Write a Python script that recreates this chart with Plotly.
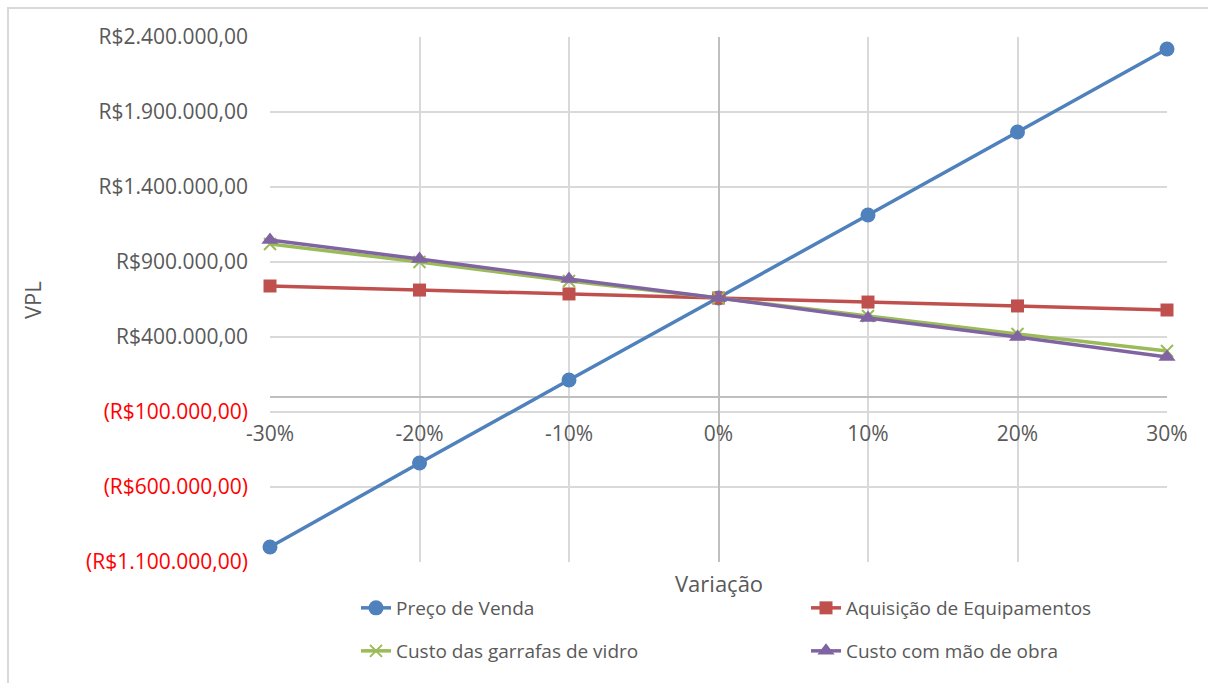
import plotly.graph_objects as go

# Variação (%) applied to each input
variacao = [-30, -20, -10, 0, 10, 20, 30]
x_labels = ["-30%", "-20%", "-10%", "0%", "10%", "20%", "30%"]

# VPL (R$) for each sensitivity series
preco_venda = [-1000000, -440000, 113000, 660000, 1213000, 1767000, 2320000]
aquisicao_equip = [740000, 713000, 687000, 660000, 633000, 607000, 580000]
custo_garrafas = [1020000, 900000, 773000, 660000, 540000, 420000, 307000]
custo_mao_obra = [1047000, 920000, 787000, 660000, 527000, 400000, 267000]

y_ticks = [-1100000, -600000, -100000, 400000, 900000, 1400000, 1900000, 2400000]

FONT = "Open Sans"
GREY_TXT = "#595959"


def brl(v):
    s = f"{abs(v):,.2f}".replace(",", "X").replace(".", ",").replace("X", ".")
    if v < 0:
        return f"<span style='color:#ff0000'>(R${s})</span>"
    return f"R${s}"


W, H = 1208, 683
L, R, T, B = 270, 41, 37, 121
pw, ph = W - L - R, H - T - B


def px_x(p):
    return (p - L) / pw


def px_y(p):
    return (H - B - p) / ph


# legend slot (container x, container y) per series
series = [
    ("Preço de Venda", preco_venda, "#4f81bd", dict(symbol="circle", size=15), "legend", (356, 608)),
    ("Aquisição de Equipamentos", aquisicao_equip, "#c0504d", dict(symbol="square", size=13), "legend2", (806, 608)),
    ("Custo das garrafas de vidro", custo_garrafas, "#9bbb59",
     dict(symbol="x-thin-open", size=12, line=dict(width=2, color="#9bbb59")), "legend3", (356, 651)),
    ("Custo com mão de obra", custo_mao_obra, "#8064a2", dict(symbol="triangle-up", size=15), "legend4", (806, 651)),
]

fig = go.Figure()
legends = {}
for name, vals, color, mk, lg, (lx, ly) in series:
    fig.add_trace(go.Scatter(
        x=variacao, y=vals, name=name, mode="lines+markers",
        line=dict(color=color, width=3.5),
        marker=dict(color=color, **mk),
        cliponaxis=False, legend=lg,
    ))
    legends[lg] = dict(
        xref="container", yref="container",
        x=lx / W, xanchor="left", y=1 - ly / H, yanchor="middle",
        orientation="h",
        font=dict(size=19, color=GREY_TXT, family=FONT), bgcolor="rgba(0,0,0,0)",
    )

y_min, y_max = y_ticks[0], y_ticks[-1]
zero_frac = (0 - y_min) / (y_max - y_min)

fig.update_layout(
    width=W, height=H,
    margin=dict(l=L, r=R, t=T, b=B, autoexpand=False),
    plot_bgcolor="white", paper_bgcolor="white",
    font=dict(family=FONT, color=GREY_TXT, size=19),
    xaxis=dict(
        range=[variacao[0], variacao[-1]],
        tickvals=variacao, ticktext=x_labels,
        showgrid=True, gridcolor="#d9d9d9", gridwidth=1.5,
        zeroline=True, zerolinecolor="#bfbfbf", zerolinewidth=1.5,
        anchor="free", position=zero_frac,
        showline=False, ticks="",
        tickfont=dict(size=21, color=GREY_TXT, family=FONT),
        ticklabelstandoff=22,
    ),
    yaxis=dict(
        range=[y_min, y_max],
        tickvals=y_ticks, ticktext=[brl(v) for v in y_ticks],
        showgrid=True, gridcolor="#d9d9d9", gridwidth=1.5,
        zeroline=True, zerolinecolor="#bfbfbf", zerolinewidth=1.5,
        showline=False, ticks="",
        tickfont=dict(size=21, color=GREY_TXT, family=FONT),
        ticklabelstandoff=21,
    ),
    showlegend=True,
    **legends,
)

fig.add_annotation(text="Variação", xref="paper", yref="paper",
                   x=px_x(719), y=px_y(583), xanchor="center", yanchor="middle",
                   showarrow=False, font=dict(size=22, color=GREY_TXT, family=FONT))
fig.add_annotation(text="VPL", xref="paper", yref="paper",
                   x=px_x(32), y=px_y(300), xanchor="center", yanchor="middle",
                   showarrow=False, textangle=-90,
                   font=dict(size=22, color=GREY_TXT, family=FONT))

# chart frame
fig.add_shape(type="rect", xref="paper", yref="paper",
              x0=px_x(8), x1=px_x(1230), y0=px_y(700), y1=px_y(8),
              line=dict(color="#d9d9d9", width=2), layer="below")

fig.write_html("out.html")
